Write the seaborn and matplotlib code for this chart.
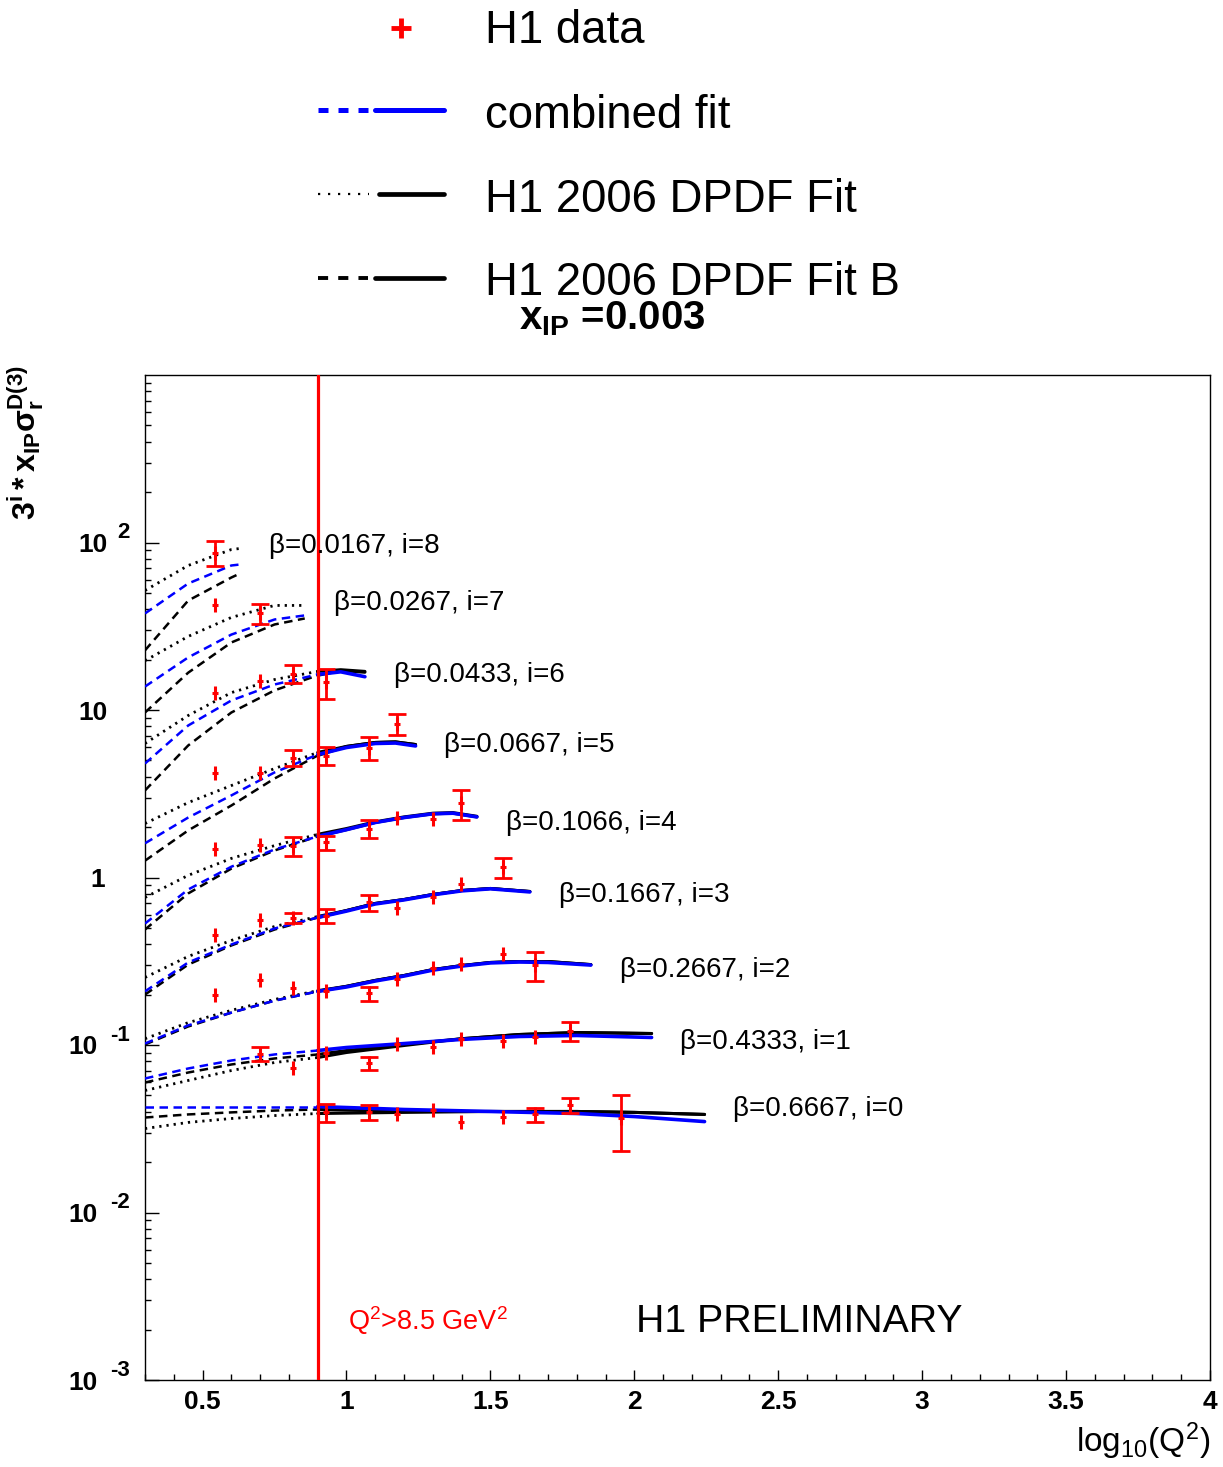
import numpy as np
import matplotlib
matplotlib.use("Agg")
import matplotlib.pyplot as plt
import seaborn as sns
from matplotlib.ticker import FixedLocator, MultipleLocator, LogLocator, NullFormatter

# ---------------- data ----------------
betas = [0.6667, 0.4333, 0.2667, 0.1667, 0.1066, 0.0667, 0.0433, 0.0267, 0.0167]
q2_cut_line = 0.9   # log10(Q^2) position of the red cut line

# H1 data points: Q^2 [GeV^2], 3^i * xIP sigma_r, error (0 = smaller than marker)
d_q2_0 = [8.5, 12, 15, 20, 25, 35, 45, 60, 90]
d_v_0 = [0.0396, 0.0396, 0.0385, 0.0412, 0.0349, 0.0374, 0.0385, 0.0436, 0.0369]
d_e_0 = [0.0047, 0.0041, 0, 0, 0, 0, 0.0037, 0.0045, 0.0136]

d_q2_1 = [5, 6.5, 8.5, 12, 15, 20, 25, 35, 45, 60]
d_v_1 = [0.0889, 0.0724, 0.0902, 0.0776, 0.1007, 0.0979, 0.108, 0.106, 0.111, 0.122]
d_e_1 = [0.009, 0, 0, 0.007, 0, 0, 0, 0, 0, 0.016]

d_q2_2 = [3.5, 5, 6.5, 8.5, 12, 15, 20, 25, 35, 45]
d_v_2 = [0.198, 0.243, 0.220, 0.211, 0.203, 0.249, 0.290, 0.303, 0.347, 0.299]
d_e_2 = [0, 0, 0, 0, 0.02, 0, 0, 0, 0, 0.058]

d_q2_3 = [3.5, 5, 6.5, 8.5, 12, 15, 20, 25, 35]
d_v_3 = [0.451, 0.561, 0.577, 0.593, 0.710, 0.662, 0.760, 0.909, 1.148]
d_e_3 = [0, 0, 0.04, 0.06, 0.08, 0, 0, 0, 0.16]

d_q2_4 = [3.5, 5, 6.5, 8.5, 12, 15, 20, 25]
d_v_4 = [1.47, 1.57, 1.55, 1.62, 1.96, 2.28, 2.25, 2.77]
d_e_4 = [0, 0, 0.2, 0.16, 0.25, 0, 0, 0.57]

d_q2_5 = [3.5, 5, 6.5, 8.5, 12, 15]
d_v_5 = [4.18, 4.18, 5.20, 5.35, 5.97, 8.30]
d_e_5 = [0, 0, 0.6, 0.67, 0.95, 1.2]

d_q2_6 = [3.5, 5, 6.5, 8.5]
d_v_6 = [12.7, 15.0, 16.5, 14.6]
d_e_6 = [0, 0, 2.0, 2.9]

d_q2_7 = [3.5, 5]
d_v_7 = [42.1, 37.7]
d_e_7 = [0, 5.2]

d_q2_8 = [3.5]
d_v_8 = [87.1]
d_e_8 = [15.0]

# Fit curves sampled at log10(Q^2) positions
c_x_0 = [0.30, 0.45, 0.60, 0.75, 0.90, 1.2, 1.5, 1.8, 2.0, 2.244]
comb_0 = [0.0429, 0.0429, 0.0429, 0.0429, 0.0429, 0.0412, 0.0401, 0.0390, 0.0374, 0.0349]
fitA_0 = [0.0317, 0.0345, 0.0364, 0.0379, 0.0390, 0.0396, 0.0401, 0.0401, 0.0396, 0.0385]
fitB_0 = [0.0369, 0.0385, 0.0396, 0.0406, 0.0412, 0.0401, 0.0401, 0.0401, 0.0396, 0.0385]

c_x_1 = [0.30, 0.45, 0.60, 0.75, 0.90, 1.0, 1.2, 1.4, 1.6, 1.8, 2.06]
comb_1 = [0.0631, 0.0724, 0.0808, 0.0878, 0.0927, 0.0966, 0.102, 0.108, 0.1124, 0.114, 0.1109]
fitA_1 = [0.0535, 0.0614, 0.0704, 0.0786, 0.0842, 0.0902, 0.0993, 0.109, 0.1155, 0.1187, 0.1171]
fitB_1 = [0.0597, 0.0685, 0.0765, 0.0831, 0.0878, 0.0927, 0.1007, 0.109, 0.1155, 0.1187, 0.1171]

c_x_2 = [0.30, 0.45, 0.60, 0.75, 0.90, 1.0, 1.1, 1.2, 1.3, 1.4, 1.5, 1.6, 1.7, 1.849]
comb_2 = [0.102, 0.131, 0.156, 0.184, 0.209, 0.222, 0.241, 0.258, 0.280, 0.296, 0.309, 0.313, 0.311, 0.300]
fitA_2 = [0.109, 0.136, 0.161, 0.187, 0.211, 0.224, 0.243, 0.260, 0.282, 0.298, 0.311, 0.315, 0.315, 0.302]
fitB_2 = [0.1007, 0.129, 0.156, 0.184, 0.209, 0.224, 0.243, 0.260, 0.282, 0.298, 0.311, 0.315, 0.315, 0.302]

c_x_3 = [0.30, 0.45, 0.60, 0.75, 0.90, 1.0, 1.1, 1.2, 1.3, 1.4, 1.5, 1.637]
comb_3 = [0.209, 0.311, 0.398, 0.496, 0.577, 0.630, 0.695, 0.735, 0.788, 0.832, 0.856, 0.820]
fitA_3 = [0.253, 0.338, 0.421, 0.510, 0.585, 0.635, 0.700, 0.739, 0.792, 0.836, 0.860, 0.825]
fitB_3 = [0.200, 0.302, 0.393, 0.489, 0.577, 0.635, 0.700, 0.739, 0.792, 0.836, 0.860, 0.825]

c_x_4 = [0.30, 0.45, 0.60, 0.75, 0.90, 1.0, 1.1, 1.2, 1.3, 1.37, 1.453]
comb_4 = [0.531, 0.848, 1.16, 1.47, 1.76, 1.93, 2.13, 2.28, 2.40, 2.42, 2.30]
fitA_4 = [0.760, 1.03, 1.30, 1.55, 1.81, 1.96, 2.15, 2.30, 2.42, 2.44, 2.32]
fitB_4 = [0.489, 0.803, 1.13, 1.45, 1.76, 1.93, 2.13, 2.28, 2.40, 2.42, 2.30]

c_x_5 = [0.30, 0.45, 0.60, 0.75, 0.90, 1.0, 1.1, 1.17, 1.24]
comb_5 = [1.60, 2.28, 3.09, 4.24, 5.42, 5.97, 6.31, 6.35, 6.10]
fitA_5 = [2.10, 2.80, 3.54, 4.47, 5.58, 6.06, 6.40, 6.45, 6.22]
fitB_5 = [1.26, 1.91, 2.69, 3.90, 5.35, 6.06, 6.40, 6.45, 6.22]

c_x_6 = [0.30, 0.45, 0.60, 0.75, 0.90, 0.98, 1.064]
comb_6 = [4.79, 8.08, 11.4, 14.2, 16.3, 16.9, 15.8]
fitA_6 = [6.31, 9.27, 12.7, 15.2, 17.0, 17.4, 17.0]
fitB_6 = [3.31, 6.14, 9.66, 13.1, 16.1, 17.2, 16.8]

c_x_7 = [0.30, 0.45, 0.60, 0.75, 0.855]
comb_7 = [13.8, 20.6, 28.2, 34.7, 36.7]
fitA_7 = [19.7, 27.5, 35.7, 42.1, 42.1]
fitB_7 = [9.66, 16.7, 25.3, 32.4, 35.2]

c_x_8 = [0.30, 0.45, 0.60, 0.63]
comb_8 = [37.7, 56.9, 72.9, 73.9]
fitA_8 = [51.7, 72.9, 90.8, 92.1]
fitB_8 = [22.7, 45.0, 61.8, 65.3]

# baseline anchors of the beta labels (y, data units), i = 0..8
label_y = [0.0379, 0.0953, 0.253, 0.710, 1.93, 5.58, 14.6, 39.8, 87.1]

x_ticks = [0.5, 1, 1.5, 2, 2.5, 3, 3.5, 4]
x_tick_labels = ["0.5", "1", "1.5", "2", "2.5", "3", "3.5", "4"]
y_ticks = [1e-3, 1e-2, 1e-1, 1, 10, 100]
y_tick_base = ["10", "10", "10", "1", "10", "10"]
y_tick_exp = ["-3", "-2", "-1", "", "", "2"]

legend_labels = ["H1 data", "combined fit", "H1 2006 DPDF Fit", "H1 2006 DPDF Fit B"]

# ---------------- styling ----------------
sns.set_theme(style="ticks")
plt.rcParams["font.family"] = ["Liberation Sans", "DejaVu Sans"]
plt.rcParams["mathtext.fontset"] = "custom"
plt.rcParams["mathtext.rm"] = "Liberation Sans"
plt.rcParams["mathtext.bf"] = "Liberation Sans:bold"
plt.rcParams["mathtext.it"] = "Liberation Sans:italic"
plt.rcParams["mathtext.sf"] = "Liberation Sans"
plt.rcParams["axes.edgecolor"] = "black"
plt.rcParams["axes.linewidth"] = 1.0
plt.rcParams["text.color"] = "black"
plt.rcParams["axes.labelcolor"] = "black"
plt.rcParams["xtick.color"] = "black"
plt.rcParams["ytick.color"] = "black"
plt.rcParams["xtick.labelcolor"] = "black"
plt.rcParams["ytick.labelcolor"] = "black"

W, H = 1223, 1467
PX = 0.72  # points per pixel at 100 dpi
fig = plt.figure(figsize=(W / 100, H / 100), dpi=100)
fig.patch.set_facecolor("white")


def fy(py):
    return 1 - py / H


ax = fig.add_axes([145 / W, 1 - 1380 / H, 1065 / W, 1005 / H])
ax.set_facecolor("white")
ax.set_yscale("log")
ax.set_xlim(0.3, 4.0)
ax.set_ylim(1e-3, 1e3)

BLUE = "#0000ff"
DASH = (0, (3.4, 2.2))
DOT = (0, (0.8, 1.8))

curves_x = [c_x_0, c_x_1, c_x_2, c_x_3, c_x_4, c_x_5, c_x_6, c_x_7, c_x_8]
curves_comb = [comb_0, comb_1, comb_2, comb_3, comb_4, comb_5, comb_6, comb_7, comb_8]
curves_A = [fitA_0, fitA_1, fitA_2, fitA_3, fitA_4, fitA_5, fitA_6, fitA_7, fitA_8]
curves_B = [fitB_0, fitB_1, fitB_2, fitB_3, fitB_4, fitB_5, fitB_6, fitB_7, fitB_8]
data_q2 = [d_q2_0, d_q2_1, d_q2_2, d_q2_3, d_q2_4, d_q2_5, d_q2_6, d_q2_7, d_q2_8]
data_v = [d_v_0, d_v_1, d_v_2, d_v_3, d_v_4, d_v_5, d_v_6, d_v_7, d_v_8]
data_e = [d_e_0, d_e_1, d_e_2, d_e_3, d_e_4, d_e_5, d_e_6, d_e_7, d_e_8]


def draw_curve(xs, ys, color, ls_low, lw_low, lw_high, z):
    xs = np.asarray(xs, float)
    ys = np.asarray(ys, float)
    low = xs <= q2_cut_line + 1e-9
    high = xs >= q2_cut_line - 1e-9
    if low.sum() > 1:
        sns.lineplot(x=xs[low], y=ys[low], ax=ax, color=color, lw=lw_low,
                     linestyle=ls_low, sort=False, estimator=None, legend=False, zorder=z)
    if high.sum() > 1:
        sns.lineplot(x=xs[high], y=ys[high], ax=ax, color=color, lw=lw_high,
                     linestyle="-", sort=False, estimator=None, legend=False, zorder=z)


for i in range(9):
    draw_curve(curves_x[i], curves_A[i], "black", DOT, 2.0, 2.2, 2)
    draw_curve(curves_x[i], curves_B[i], "black", DASH, 1.8, 2.2, 2)
    draw_curve(curves_x[i], curves_comb[i], BLUE, DASH, 1.8, 2.6, 3)

# cut line
ax.axvline(q2_cut_line, color="red", lw=2.3, zorder=4)

# data points
for i in range(9):
    x = np.log10(np.asarray(data_q2[i], float))
    v = np.asarray(data_v[i], float)
    e = np.asarray(data_e[i], float)
    big = e > 0
    if big.any():
        ax.errorbar(x[big], v[big], yerr=e[big], fmt="none", ecolor="red",
                    elinewidth=2.0, capsize=6.5, capthick=2.0, zorder=6)
    sns.scatterplot(x=x, y=v, ax=ax, marker="|", s=100, color="red",
                    linewidth=2.2, zorder=7, legend=False)
    sns.scatterplot(x=x, y=v, ax=ax, marker="_", s=25, color="red",
                    linewidth=2.2, zorder=7, legend=False)

# beta labels
for i in range(9):
    ax.text(curves_x[i][-1] + 0.1, label_y[i], f"β={betas[i]}, i={i}",
            fontsize=20, ha="left", va="baseline", color="black", zorder=8)

ax.text((348 - 145) / 1065, (1380 - 1330) / 1005, r"Q$^{2}$>8.5 GeV$^{2}$",
        transform=ax.transAxes, color="red", fontsize=19.5, ha="left", va="baseline")
ax.text((636 - 145) / 1065, (1380 - 1332) / 1005, "H1 PRELIMINARY",
        transform=ax.transAxes, color="black", fontsize=28.3, ha="left", va="baseline")

# ticks
ax.xaxis.set_major_locator(FixedLocator(x_ticks))
ax.set_xticklabels(x_tick_labels, fontsize=19, fontweight="bold")
ax.xaxis.set_minor_locator(MultipleLocator(0.1))
ax.yaxis.set_major_locator(FixedLocator(y_ticks))
ax.set_yticklabels([""] * len(y_ticks))
ax.yaxis.set_minor_locator(LogLocator(base=10, subs=np.arange(2, 10)))
ax.yaxis.set_minor_formatter(NullFormatter())
ax.tick_params(axis="both", which="both", direction="in", top=False, right=False,
               color="black", labelcolor="black", width=1.0)
ax.tick_params(axis="x", which="major", length=7, pad=7)
ax.tick_params(axis="x", which="minor", length=4)
ax.tick_params(axis="y", which="major", length=10, pad=11)
ax.tick_params(axis="y", which="minor", length=4.5)
for s in ax.spines.values():
    s.set_visible(True)
    s.set_color("black")
    s.set_linewidth(1.0)
ax.set_xlabel("")
ax.set_ylabel("")

# ROOT-style y tick labels: "10" with a large raised exponent
for val, base, ex in zip(y_ticks, y_tick_base, y_tick_exp):
    if ex.startswith("-"):
        base_right = -47
    elif ex:
        base_right = -37
    elif base == "1":
        base_right = -40
    else:
        base_right = -37
    ax.annotate(base, xy=(0, val), xycoords=("axes fraction", "data"),
                xytext=(base_right * PX, -9.5 * PX), textcoords="offset points",
                ha="right", va="baseline", fontsize=19, fontweight="bold",
                annotation_clip=False)
    if ex:
        ax.annotate(ex, xy=(0, val), xycoords=("axes fraction", "data"),
                    xytext=(-15 * PX, 4 * PX), textcoords="offset points",
                    ha="right", va="baseline", fontsize=16, fontweight="bold",
                    annotation_clip=False)

# axis titles
fig.text(1210 / W, fy(1452), r"log$_{10}$(Q$^{2}$)", fontsize=24, ha="right", va="baseline",
         color="black")
fig.text(26 / W, fy(365), r"$\mathbf{3^{i}*x_{IP}σ_{r}^{D(3)}}$", fontsize=23,
         rotation=90, ha="center", va="top", color="black")
fig.text(612 / W, fy(329), r"$\mathbf{x_{IP}}$ =0.003", fontsize=29, fontweight="bold",
         ha="center", va="baseline", color="black")

# legend (drawn in pixel space of the figure)
lg = fig.add_axes([0, 0, 1, 1], zorder=10)
lg.set_xlim(0, W)
lg.set_ylim(H, 0)
lg.axis("off")
lg.plot([401], [28], marker="+", ms=14, mew=3.5, color="red", ls="none")
lg.plot([318, 368], [110, 110], color=BLUE, lw=3.6, ls=(0, (2, 2)))
lg.plot([375, 444], [110, 110], color=BLUE, lw=3.6, ls="-")
lg.plot([318, 369], [194, 194], color="black", lw=1.6, ls=(0, (1, 3.5)))
lg.plot([379, 444], [194, 194], color="black", lw=3.4, ls="-")
lg.plot([318, 368], [278, 278], color="black", lw=2.8, ls=(0, (2.6, 2.6)))
lg.plot([375, 444], [278, 278], color="black", lw=3.4, ls="-")
for lab, base in zip(legend_labels, [43, 128, 212, 295]):
    fig.text(485 / W, fy(base), lab, fontsize=32.8, ha="left", va="baseline", color="black")

fig.savefig("out.png", dpi=100, facecolor="white")
